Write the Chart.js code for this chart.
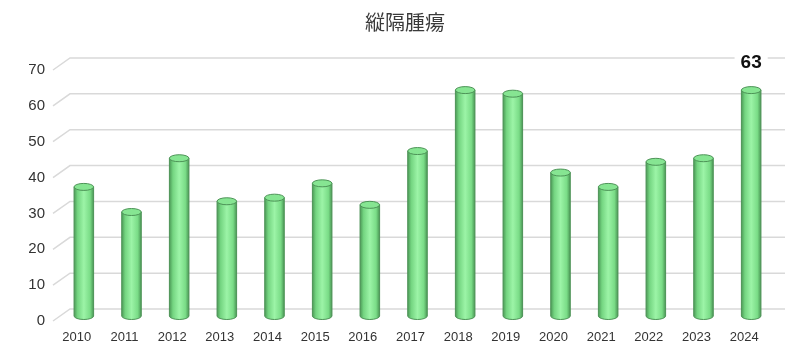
<!DOCTYPE html>
<html>
<head>
<meta charset="utf-8">
<script src="https://cdn.jsdelivr.net/npm/chart.js@4.4.0/dist/chart.umd.min.js"></script>
<style>
  html, body { margin: 0; padding: 0; background: #fff; }
  #wrap { width: 810px; height: 354px; }
</style>
</head>
<body>
<div id="wrap"><canvas id="chart"></canvas></div>
<script>
const years = ['2010', '2011', '2012', '2013', '2014', '2015', '2016', '2017', '2018', '2019', '2020', '2021', '2022', '2023', '2024'];
const cases = [36, 29, 44, 32, 33, 37, 31, 46, 63, 62, 40, 36, 43, 44, 63];
const labelIndex = [14];
const chartTitle = '縦隔腫瘍';

// 3D look: back wall offset, bars sit half way
const WALL_DX = 17, WALL_DY = -12;
const BAR_DX = 7, BAR_DY = -5;

const wallPlugin = {
  id: 'wall',
  beforeDatasetsDraw(chart) {
    const { ctx, chartArea, scales } = chart;
    const y = scales.y;
    ctx.save();
    ctx.strokeStyle = '#d9d9d9';
    ctx.lineWidth = 1.5;
    y.ticks.forEach(t => {
      const py = y.getPixelForValue(t.value);
      ctx.beginPath();
      ctx.moveTo(chartArea.left, py);
      ctx.lineTo(chartArea.left + WALL_DX, py + WALL_DY);
      ctx.lineTo(chartArea.right + WALL_DX, py + WALL_DY);
      ctx.stroke();
    });
    // title, centred on the whole picture
    ctx.font = '20px "Noto Sans CJK JP", sans-serif';
    ctx.fillStyle = '#3a3a3a';
    ctx.textAlign = 'center';
    ctx.textBaseline = 'middle';
    ctx.fillText(chartTitle, chart.width / 2, 22);
    ctx.restore();
  }
};

const cylinderPlugin = {
  id: 'cylinders',
  afterDatasetsDraw(chart) {
    const { ctx } = chart;
    const meta = chart.getDatasetMeta(0);
    ctx.save();
    meta.data.forEach((bar, i) => {
      const w = bar.width;
      const cx = bar.x + BAR_DX;
      const top = bar.y + BAR_DY;
      const base = bar.base + BAR_DY;
      const l = cx - w / 2, r = cx + w / 2;
      const ry = 3.5;

      const g = ctx.createLinearGradient(l, 0, r, 0);
      g.addColorStop(0, '#4c9a57');
      g.addColorStop(0.18, '#74d581');
      g.addColorStop(0.5, '#9cf4a7');
      g.addColorStop(0.82, '#7adc87');
      g.addColorStop(1, '#4a9655');

      ctx.beginPath();
      ctx.moveTo(l, top);
      ctx.lineTo(l, base);
      ctx.ellipse(cx, base, w / 2, ry, 0, Math.PI, 0, true);
      ctx.lineTo(r, top);
      ctx.closePath();
      ctx.fillStyle = g;
      ctx.fill();
      ctx.strokeStyle = '#4d9357';
      ctx.lineWidth = 1;
      ctx.stroke();

      ctx.beginPath();
      ctx.ellipse(cx, top, w / 2, ry, 0, 0, Math.PI * 2);
      ctx.fillStyle = '#86e592';
      ctx.fill();
      ctx.strokeStyle = '#4d9357';
      ctx.stroke();

      if (labelIndex.includes(i)) {
        ctx.font = 'bold 19px "Liberation Sans", Arial, sans-serif';
        ctx.textAlign = 'center';
        ctx.textBaseline = 'middle';
        const txt = String(cases[i]);
        const tw = ctx.measureText(txt).width;
        const ly = top - 27;
        ctx.fillStyle = '#fff';
        ctx.fillRect(cx - tw / 2 - 6, ly - 11, tw + 12, 22);
        ctx.fillStyle = '#111';
        ctx.fillText(txt, cx, ly);
      }
    });
    ctx.restore();
  }
};

new Chart(document.getElementById('chart'), {
  type: 'bar',
  data: {
    labels: years,
    datasets: [{
      data: cases,
      backgroundColor: 'rgba(0,0,0,0)',
      borderWidth: 0,
      categoryPercentage: 1,
      barPercentage: 0.41
    }]
  },
  options: {
    responsive: true,
    maintainAspectRatio: false,
    animation: false,
    layout: { padding: { left: 0, right: 42, top: 70, bottom: 0 } },
    plugins: {
      legend: { display: false },
      tooltip: { enabled: false },
      title: { display: false }
    },
    scales: {
      x: {
        grid: { display: false, drawTicks: false },
        border: { display: false },
        ticks: {
          color: '#333',
          padding: 9,
          maxRotation: 0,
          font: { family: '"Liberation Sans", Arial, sans-serif', size: 13 }
        },
        afterFit(scale) { scale.height = 33; }
      },
      y: {
        min: 0,
        max: 70,
        grid: { display: false, drawTicks: false },
        border: { display: false },
        ticks: {
          stepSize: 10,
          color: '#333',
          padding: 8,
          font: { family: '"Liberation Sans", Arial, sans-serif', size: 15 }
        },
        afterFit(scale) { scale.width = 53; }
      }
    }
  },
  plugins: [wallPlugin, cylinderPlugin]
});
</script>
</body>
</html>
